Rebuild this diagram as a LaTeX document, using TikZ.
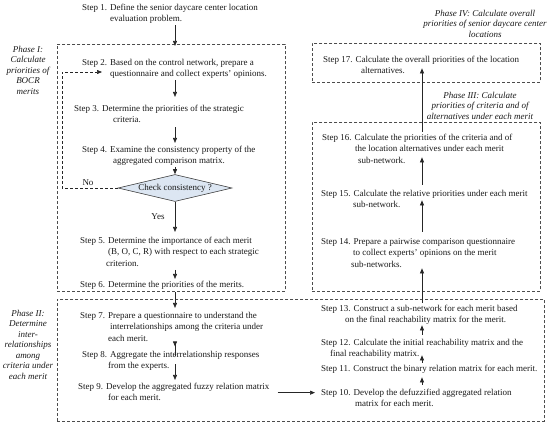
\documentclass[tikz,border=0pt]{standalone}
\usepackage{fontspec}
\setmainfont{Liberation Serif}
\usetikzlibrary{arrows.meta,shapes.geometric}
\definecolor{dfill}{HTML}{DCE6F2}
\begin{document}
\begin{tikzpicture}[x=1pt,y=-1pt,
  txt/.style={anchor=north west, align=left, inner sep=0pt,
    font=\fontsize{9}{11.5}\selectfont, text=black!90},
  lab/.style={anchor=north, align=center, inner sep=0pt,
    font=\fontsize{9}{10.5}\selectfont\itshape, text=black!90},
  phase/.style={draw=black!70, dash pattern=on 3pt off 2pt, line width=0.6pt, inner sep=0pt, anchor=north west},
  arr/.style={-{Triangle[length=5pt,width=4pt]}, line width=0.7pt, draw=black!85},
  fbarr/.style={arr, dash pattern=on 3pt off 2pt, line width=0.6pt},
  small/.style={anchor=base, inner sep=0pt, font=\fontsize{9}{10}\selectfont, text=black!90},
]
\useasboundingbox (0,0) rectangle (550,429);
% phase boxes
\node[phase, minimum width=228, minimum height=247] (p1) at (57,44) {};
\node[phase, minimum width=487, minimum height=122] (p2) at (57,299) {};
\node[phase, minimum width=228, minimum height=169] (p3) at (312,122) {};
\node[phase, minimum width=228, minimum height=39] (p4) at (312,43) {};
% labels
\node[lab] (l1) at (28,44.65) {\strut Phase I:\\Calculate\\priorities of\\BOCR\\merits\strut};
\node[lab] (l2) at (28,308.65) {\strut Phase II:\\Determine\\inter-\\relationships\\among\\criteria under\\each merit\strut};
\node[lab] (l3) at (480,90.65) {\strut Phase III: Calculate\\priorities of criteria and of\\alternatives under each merit\strut};
\node[lab] (l4) at (485,8.65) {\strut Phase IV: Calculate overall\\priorities of senior daycare center\\locations\strut};
% reference columns
\coordinate (ax) at (175,0);
\coordinate (bx) at (422,0);
% left column
\node[txt] (s1) at (82,1.95) {\strut Step 1. Define the senior daycare center location\\\hspace*{28pt}evaluation problem.\strut};
\node[txt] (s2) at (82,56.95) {\strut Step 2. Based on the control network, prepare a\\\hspace*{28pt}questionnaire and collect experts’ opinions.\strut};
\node[txt] (s3) at (74,102.95) {\strut Step 3. Determine the priorities of the strategic\\\hspace*{39pt}criteria.\strut};
\node[txt] (s4) at (82,143.95) {\strut Step 4. Examine the consistency property of the\\\hspace*{31pt}aggregated comparison matrix.\strut};
\node[diamond, draw=black!75, fill=dfill, line width=0.6pt, aspect=4.2, inner sep=0pt,
  minimum width=114, minimum height=27, font=\fontsize{9}{10}\selectfont, text=black!90] (chk) at (175,188) {Check consistency ?};
\node[txt] (s5) at (80,234.95) {\strut Step 5. Determine the importance of each merit\\\hspace*{28pt}(B, O, C, R) with respect to each strategic\\\hspace*{26pt}criterion.\strut};
\node[txt] (s6) at (80,278.95) {\strut Step 6. Determine the priorities of the merits.};
\node[txt] (s7) at (80,309.95) {\strut Step 7. Prepare a questionnaire to understand the\\\hspace*{30pt}interrelationships among the criteria under\\\hspace*{28pt}each merit.\strut};
\node[txt] (s8) at (82,348.95) {\strut Step 8. Aggregate the interrelationship responses\\\hspace*{26pt}from the experts.\strut};
\node[txt] (s9) at (78,380.95) {\strut Step 9. Develop the aggregated fuzzy relation matrix\\\hspace*{30pt}for each merit.\strut};
\node[small] (no) at (88,185) {No};
\node[small] (yes) at (158,219) {Yes};
% right column
\node[txt] (s17) at (323,53.95) {\strut Step 17. Calculate the overall priorities of the location\\\hspace*{38pt}alternatives.\strut};
\node[txt] (s16) at (322,131.95) {\strut Step 16. Calculate the priorities of the criteria and of\\\hspace*{33pt}the location alternatives under each merit\\\hspace*{36pt}sub-network.\strut};
\node[txt] (s15) at (321,187.95) {\strut Step 15. Calculate the relative priorities under each merit\\\hspace*{32pt}sub-network.\strut};
\node[txt] (s14) at (321,235.95) {\strut Step 14. Prepare a pairwise comparison questionnaire\\\hspace*{32pt}to collect experts’ opinions on the merit\\\hspace*{30pt}sub-networks.\strut};
\node[txt] (s13) at (321,302.95) {\strut Step 13. Construct a sub-network for each merit based\\\hspace*{24pt}on the final reachability matrix for the merit.\strut};
\node[txt] (s12) at (321,336.95) {\strut Step 12. Calculate the initial reachability matrix and the\\\hspace*{9pt}final reachability matrix.\strut};
\node[txt] (s11) at (321,362.95) {\strut Step 11. Construct the binary relation matrix for each merit.};
\node[txt] (s10) at (321,386.95) {\strut Step 10. Develop the defuzzified aggregated relation\\\hspace*{34pt}matrix for each merit.\strut};
% arrows left
\draw[arr, shorten >=11pt] (s1.south -| ax) -- (s2.north -| ax);
\draw[arr, shorten >=6pt] (s2.south -| ax) -- (s3.north -| ax);
\draw[arr, shorten <=1pt, shorten >=1pt] (s3.south -| ax) -- (s4.north -| ax);
\draw[arr] (s4.south -| ax) -- (chk.north);
\draw[arr, shorten >=3pt] (chk.south) -- (s5.north -| ax);
\draw[arr] (s5.south -| ax) -- (s6.north -| ax);
\draw[arr, shorten <=1.5pt, shorten >=2pt] (s6.south -| ax) -- (s7.north -| ax);
\draw[arr, shorten <=-11.5pt, shorten >=2.5pt] (s7.south -| ax) -- (s8.north -| ax);
\draw[arr, shorten <=-8pt, shorten >=1pt] (s8.south -| ax) -- (s9.north -| ax);
% feedback loop
\coordinate (fb) at (62,72);
\coordinate (fbend) at (102,72);
\draw[fbarr] (chk.west) -| (fb) -- (fbend);
% 9 -> 10
\draw[arr, shorten <=8pt, shorten >=6pt] (s9.east) -- (s9.east -| s10.west);
% arrows right
\draw[arr, shorten <=2pt, shorten >=2.5pt] (s10.north -| bx) -- (s11.south -| bx);
\draw[arr, shorten >=-5pt] (s11.north -| bx) -- (s12.south -| bx);
\draw[arr, shorten <=2pt, shorten >=-1pt] (s12.north -| bx) -- (s13.south -| bx);
\draw[arr, shorten >=-2.5pt] (s13.north -| bx) -- (s14.south -| bx);
\draw[arr, shorten <=4pt, shorten >=-11pt] (s14.north -| bx) -- (s15.south -| bx);
\draw[arr, shorten <=3pt, shorten >=-9.5pt] (s15.north -| bx) -- (s16.south -| bx);
\draw[arr, shorten >=-9pt] (s16.north -| bx) -- (s17.south -| bx);
\end{tikzpicture}
\end{document}
